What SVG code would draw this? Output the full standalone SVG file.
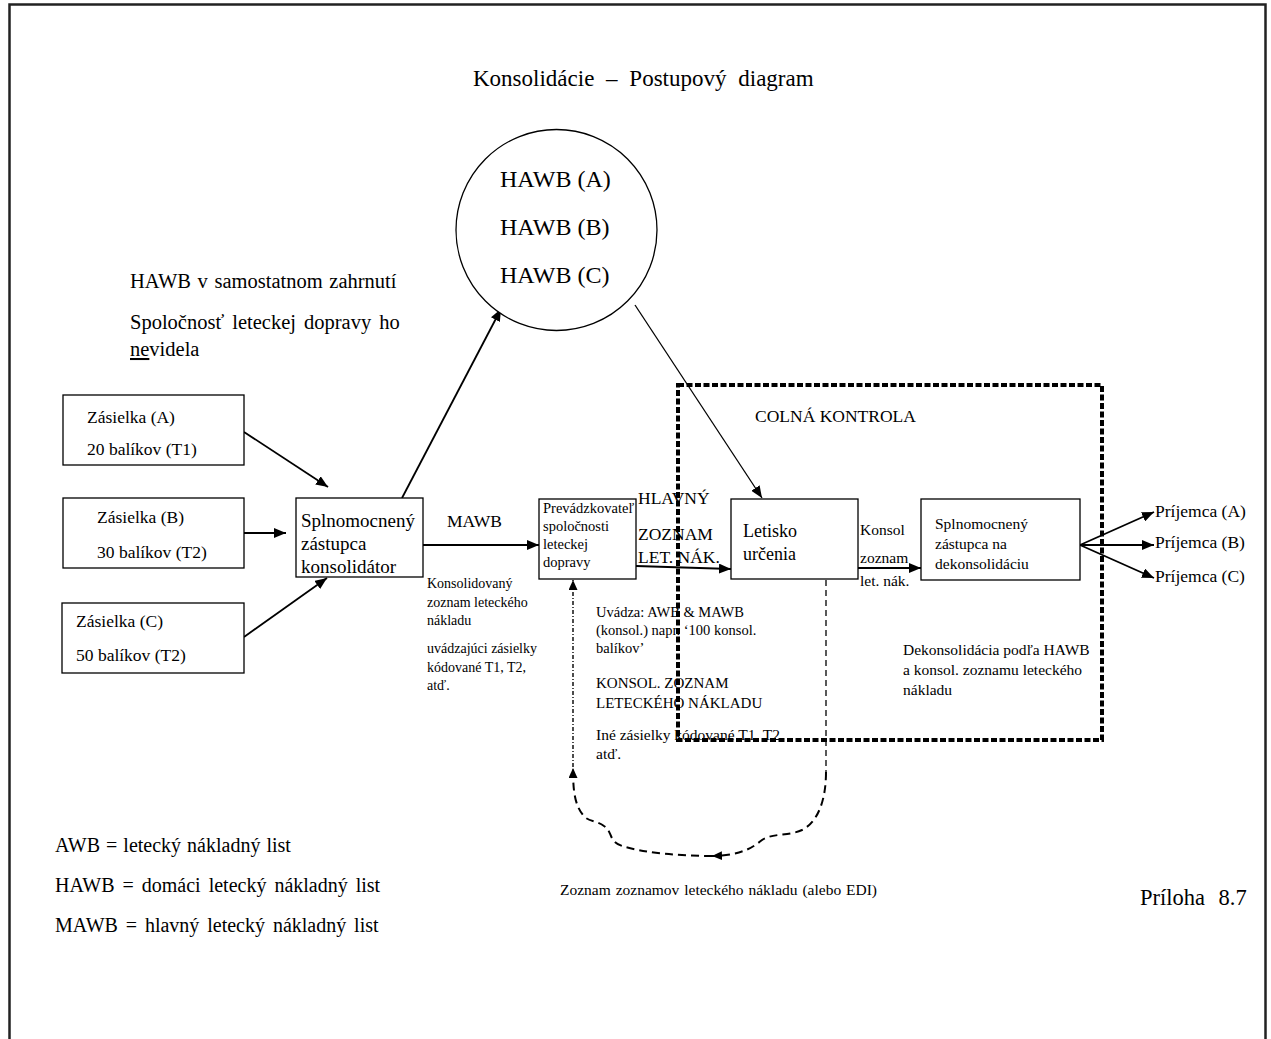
<svg xmlns="http://www.w3.org/2000/svg" width="1271" height="1039" viewBox="0 0 1271 1039">
  <style>
    text { font-family: "Liberation Serif", "Times New Roman", serif; fill: #000; }
    .box { fill: #fff; stroke: #000; stroke-width: 1.3; }
    .conn { fill: none; stroke: #000; stroke-width: 1.8; }
    .thin { fill: none; stroke: #000; stroke-width: 1.3; }
    .dash { fill: none; stroke: #000; stroke-width: 1.3; stroke-dasharray: 6 4; }
    .dashb { fill: none; stroke: #000; stroke-width: 2; stroke-dasharray: 8 5; }
    .dashdot { fill: none; stroke: #000; stroke-width: 1.4; stroke-dasharray: 4 2 1 2; }
    .zone { fill: none; stroke: #000; stroke-width: 4; stroke-dasharray: 6 2.5; }
    .f14 { font-size: 14px; }
    .f145 { font-size: 14.5px; }
    .f15 { font-size: 15px; }
    .f155 { font-size: 15.5px; }
    .f175 { font-size: 17.5px; }
    .f18 { font-size: 18px; }
    .f19 { font-size: 19px; }
    .f20 { font-size: 20px; }
    .f205 { font-size: 20.5px; }
    .f24 { font-size: 24px; }
  </style>
  <defs>
    <marker id="arrow" markerUnits="userSpaceOnUse" markerWidth="13" markerHeight="10" refX="12" refY="5" orient="auto">
      <path d="M0,0 L12,5 L0,10 z" fill="#000"/>
    </marker>
    <marker id="arrowS" markerUnits="userSpaceOnUse" markerWidth="11" markerHeight="9" refX="10" refY="4.5" orient="auto">
      <path d="M0,0 L10,4.5 L0,9 z" fill="#000"/>
    </marker>
  </defs>

  <!-- page frame -->
  <rect x="9.5" y="4.5" width="1256" height="1100" fill="none" stroke="#222" stroke-width="2.5"/>

  <!-- title -->
  <text x="473" y="86" font-size="23" word-spacing="6">Konsolidácie – Postupový diagram</text>

  <!-- side notes -->
  <g id="note-hawb">
    <text x="130" y="288" class="f205" word-spacing="1.5">HAWB v samostatnom zahrnutí</text>
    <text x="130" y="329" class="f205" word-spacing="2.9">Spoločnosť leteckej dopravy ho</text>
    <text x="130" y="356" class="f205"><tspan text-decoration="underline">ne</tspan>videla</text>
  </g>

  <!-- connectors -->
  <g id="connectors">
    <line class="conn" x1="244" y1="432" x2="328" y2="487" marker-end="url(#arrow)"/>
    <line class="conn" x1="244" y1="533" x2="286" y2="533" marker-end="url(#arrow)"/>
    <line class="conn" x1="244" y1="637" x2="327" y2="578" marker-end="url(#arrow)"/>
    <line class="conn" x1="402" y1="498" x2="501" y2="309" marker-end="url(#arrow)"/>
    <line class="conn" x1="423" y1="545" x2="539" y2="545" marker-end="url(#arrow)"/>
    <line class="thin" x1="635" y1="305" x2="762" y2="498" marker-end="url(#arrow)"/>
    <line class="conn" x1="636" y1="566" x2="731" y2="569" marker-end="url(#arrow)"/>
    <line class="conn" x1="858" y1="568" x2="921" y2="568" marker-end="url(#arrow)"/>
    <line class="conn" x1="1080" y1="545" x2="1154" y2="512" marker-end="url(#arrow)"/>
    <line class="conn" x1="1080" y1="545" x2="1154" y2="545" marker-end="url(#arrow)"/>
    <line class="conn" x1="1080" y1="545" x2="1154" y2="578" marker-end="url(#arrow)"/>
    <!-- air cargo manifest return loop -->
    <path class="dash" d="M826,580 V772"/>
    <path class="dashb" d="M826,772 C826,800 818,822 802,830 C790,836 772,833 762,840 C752,848 742,855 712,856" marker-end="url(#arrowS)"/>
    <path class="dashb" d="M712,856 C680,856 645,853 622,846 C608,841 613,832 604,826 C596,820 588,822 583,815 C575,805 573,792 573,768" marker-end="url(#arrowS)"/>
    <path class="dashdot" d="M573,767 V580" marker-end="url(#arrowS)"/>
  </g>

  <!-- shipments -->
  <g id="shipment-a">
    <rect class="box" x="63" y="395" width="181" height="70"/>
    <text x="87" y="423" class="f175">Zásielka (A)</text>
    <text x="87" y="455" class="f175">20 balíkov (T1)</text>
  </g>
  <g id="shipment-b">
    <rect class="box" x="63" y="498" width="181" height="70"/>
    <text x="97" y="523" class="f175">Zásielka (B)</text>
    <text x="97" y="558" class="f175">30 balíkov (T2)</text>
  </g>
  <g id="shipment-c">
    <rect class="box" x="62" y="603" width="182" height="70"/>
    <text x="76" y="627" class="f175">Zásielka (C)</text>
    <text x="76" y="661" class="f175">50 balíkov (T2)</text>
  </g>

  <!-- consolidating agent -->
  <g id="consolidator">
    <rect class="box" x="296" y="498" width="127" height="79"/>
    <text x="301" y="527" class="f19">Splnomocnený</text>
    <text x="301" y="550" class="f19">zástupca</text>
    <text x="301" y="573" class="f19">konsolidátor</text>
  </g>

  <g id="label-mawb">
    <text x="447" y="527" class="f175">MAWB</text>
  </g>

  <g id="note-manifest">
    <text x="427" y="588" class="f14">Konsolidovaný</text>
    <text x="427" y="607" class="f14">zoznam leteckého</text>
    <text x="427" y="625" class="f14">nákladu</text>
    <text x="427" y="653" class="f14">uvádzajúci zásielky</text>
    <text x="427" y="672" class="f14">kódované T1, T2,</text>
    <text x="427" y="690" class="f14">atď.</text>
  </g>

  <!-- HAWB bundle -->
  <g id="hawb-bundle">
    <circle cx="556.5" cy="230" r="100.5" fill="#fff" stroke="#000" stroke-width="1.3"/>
    <text x="500" y="187" class="f24">HAWB (A)</text>
    <text x="500" y="235" class="f24">HAWB (B)</text>
    <text x="500" y="283" class="f24">HAWB (C)</text>
  </g>

  <!-- carrier -->
  <g id="carrier">
    <rect class="box" x="539" y="499" width="97" height="80"/>
    <text x="543" y="513" class="f145">Prevádzkovateľ</text>
    <text x="543" y="531" class="f145">spoločnosti</text>
    <text x="543" y="549" class="f145">leteckej</text>
    <text x="543" y="567" class="f145">dopravy</text>
  </g>

  <g id="label-master">
    <text x="638" y="504" class="f175">HLAVNÝ</text>
    <text x="638" y="540" class="f175">ZOZNAM</text>
    <text x="638" y="563" class="f175">LET. NÁK.</text>
  </g>

  <g id="note-consol">
    <text x="596" y="617" class="f145">Uvádza:  AWB &amp; MAWB</text>
    <text x="596" y="635" class="f145">(konsol.) napr. ‘100 konsol.</text>
    <text x="596" y="653" class="f145">balíkov’</text>
    <text x="596" y="688" class="f15">KONSOL. ZOZNAM</text>
    <text x="596" y="708" class="f15">LETECKÉHO NÁKLADU</text>
    <text x="596" y="740" class="f155">Iné zásielky kódované T1, T2,</text>
    <text x="596" y="759" class="f155">atď.</text>
  </g>

  <!-- destination airport -->
  <g id="airport">
    <rect class="box" x="731" y="499" width="127" height="80"/>
    <text x="743" y="537" class="f18">Letisko</text>
    <text x="743" y="560" class="f18">určenia</text>
  </g>

  <g id="label-konsol">
    <text x="860" y="535" class="f155">Konsol</text>
    <text x="860" y="563" class="f155">zoznam</text>
    <text x="860" y="586" class="f155">let. nák.</text>
  </g>

  <!-- deconsolidating agent -->
  <g id="deconsolidator">
    <rect class="box" x="921" y="499" width="159" height="81"/>
    <text x="935" y="529" class="f155">Splnomocnený</text>
    <text x="935" y="549" class="f155">zástupca na</text>
    <text x="935" y="569" class="f155">dekonsolidáciu</text>
  </g>

  <g id="note-deconsol">
    <text x="903" y="655" class="f155">Dekonsolidácia podľa  HAWB</text>
    <text x="903" y="675" class="f155">a konsol. zoznamu leteckého</text>
    <text x="903" y="695" class="f155">nákladu</text>
  </g>

  <!-- consignees -->
  <g id="consignee-a"><text x="1155" y="517" class="f175">Príjemca (A)</text></g>
  <g id="consignee-b"><text x="1155" y="548" class="f175">Príjemca (B)</text></g>
  <g id="consignee-c"><text x="1155" y="582" class="f175">Príjemca (C)</text></g>

  <!-- customs control zone -->
  <g id="customs">
    <rect class="zone" x="678" y="385" width="424" height="355"/>
    <text x="755" y="422" class="f175">COLNÁ KONTROLA</text>
  </g>

  <g id="label-edi">
    <text x="560" y="895" class="f155" word-spacing="1">Zoznam zoznamov leteckého nákladu  (alebo EDI)</text>
  </g>

  <!-- legend -->
  <g id="legend">
    <text x="55" y="852" class="f20" word-spacing="1">AWB = letecký nákladný list</text>
    <text x="55" y="892" class="f20" word-spacing="3">HAWB = domáci letecký nákladný list</text>
    <text x="55" y="932" class="f20" word-spacing="2.9">MAWB = hlavný letecký nákladný list</text>
  </g>

  <g id="annex">
    <text x="1140" y="905" font-size="22.5" word-spacing="8">Príloha 8.7</text>
  </g>
</svg>
